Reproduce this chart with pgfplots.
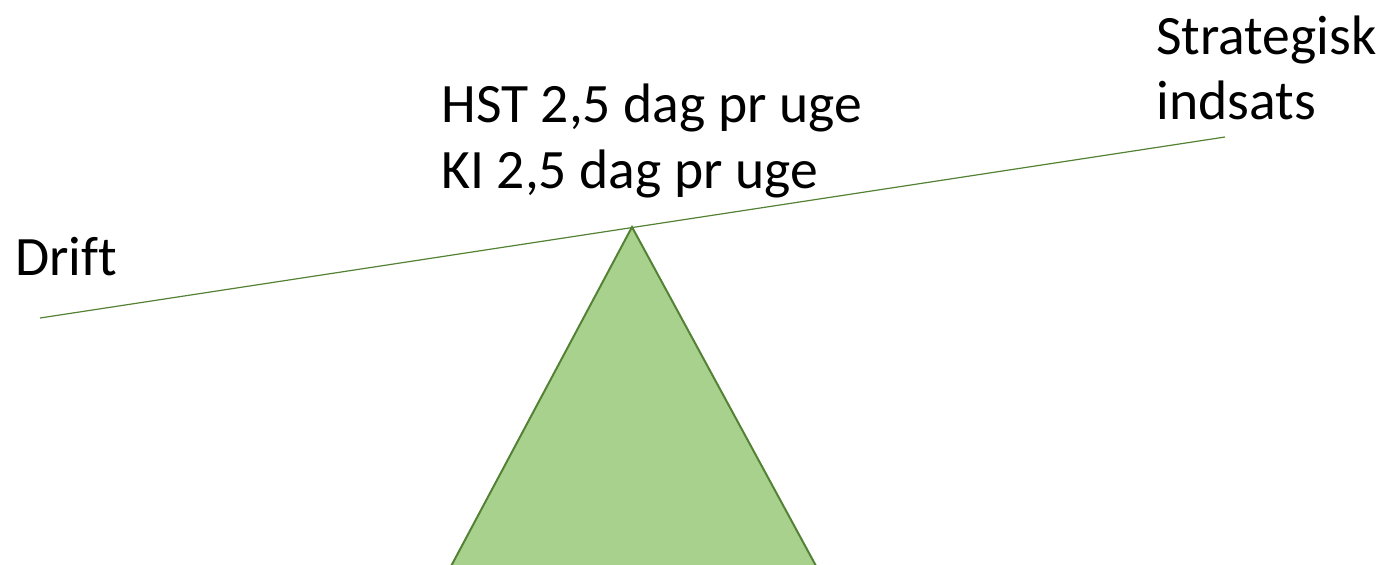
\documentclass[border=0pt]{standalone}
\usepackage{pgfplots}
\pgfplotsset{compat=1.18}
\usepackage{fontspec}
\setmainfont[Ligatures=NoCommon]{Carlito}
\definecolor{trifill}{HTML}{A9D18E}
\definecolor{tridraw}{HTML}{548235}
\definecolor{beam}{HTML}{548235}
\begin{document}
\begin{tikzpicture}
\begin{axis}[
  name=main,
  scale only axis,
  width=693.5pt, height=282pt,
  xmin=0, xmax=1387, ymin=0, ymax=564,
  y dir=reverse,
  hide axis,
  clip=true,
]
\addplot[draw=tridraw, line width=1pt, fill=trifill] coordinates {(433,600) (632,227) (834.5,600)} -- cycle;
\addplot[draw=beam, line width=0.6pt] coordinates {(40,318) (1225,137)};
\node[anchor=base west, inner sep=0pt, font=\fontsize{27.8}{32}\selectfont] at (axis cs:15,275) {Drift};
\node[anchor=base west, inner sep=0pt, font=\fontsize{27.8}{32}\selectfont] at (axis cs:441,122) {HST 2,5 dag pr uge};
\node[anchor=base west, inner sep=0pt, font=\fontsize{27.8}{32}\selectfont] at (axis cs:441,188) {KI 2,5 dag pr uge};
\node[anchor=base west, inner sep=0pt, font=\fontsize{27.8}{32}\selectfont] at (axis cs:1156,54) {Strategisk};
\node[anchor=base west, inner sep=0pt, font=\fontsize{27.8}{32}\selectfont] at (axis cs:1156,119) {indsats};
\end{axis}
\pgfresetboundingbox
\path[use as bounding box] (main.south west) rectangle (main.north east);
\end{tikzpicture}
\end{document}
